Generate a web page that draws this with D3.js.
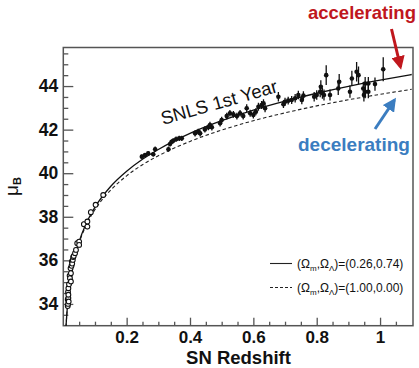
<!DOCTYPE html>
<html><head><meta charset="utf-8">
<script src="https://cdn.jsdelivr.net/npm/d3@7"></script>
<style>
body{margin:0;background:#fff}
text{font-family:"Liberation Sans",Arial,Helvetica,sans-serif}
</style>
</head><body>
<svg id="c" width="419" height="368"></svg>
<script>
// ---- data ----
const lowZ   = [0.014,0.014,0.015,0.015,0.016,0.016,0.016,0.017,0.018,0.020,0.021,0.023,0.024,0.024,0.026,0.027,0.028,0.030,0.031,0.033,0.037,0.040,0.044,0.050,0.050,0.065,0.076,0.076,0.087,0.102,0.126];
const lowMu  = [33.90,34.20,34.00,34.55,34.27,34.42,34.72,34.11,34.90,35.30,35.18,35.64,35.41,35.03,35.75,35.95,35.85,36.02,36.15,36.20,36.33,36.48,36.79,36.86,36.71,37.66,37.78,37.55,38.21,38.55,39.00];
const lowErr = [0.12,0.12,0.12,0.12,0.12,0.12,0.12,0.12,0.12,0.12,0.12,0.12,0.12,0.12,0.12,0.12,0.12,0.12,0.12,0.12,0.12,0.12,0.12,0.12,0.12,0.12,0.12,0.12,0.12,0.12,0.12];

const snlsZ  = [0.248,0.258,0.268,0.284,0.290,0.332,0.337,0.342,0.347,0.356,0.366,0.374,0.416,0.426,0.432,0.447,0.458,0.463,0.469,0.495,0.500,0.516,0.526,0.537,0.548,0.558,0.568,0.579,0.590,0.600,0.608,0.616,0.626,0.632,0.637,0.679,0.695,0.700,0.710,0.721,0.732,0.742,0.753,0.758,0.792,0.800,0.811,0.813,0.818,0.823,0.830,0.842,0.868,0.871,0.905,0.911,0.926,0.932,0.947,0.953,0.953,0.949,0.963,0.963,0.984,1.010];
const snlsMu = [40.76,40.83,40.91,40.87,41.10,41.10,41.34,41.44,41.49,41.56,41.60,41.60,41.83,41.90,41.83,42.01,42.11,42.21,42.11,42.29,42.44,42.62,42.75,42.70,42.62,42.75,42.62,42.98,42.75,42.67,42.82,43.05,43.13,43.21,42.98,43.51,43.17,43.28,43.33,43.36,43.44,43.59,43.36,43.56,43.51,43.59,43.74,43.97,43.67,43.59,44.50,43.59,43.89,44.20,43.74,44.35,44.66,44.50,43.89,44.12,43.74,43.59,44.12,43.74,44.09,44.77];
const snlsErr= [0.10,0.10,0.10,0.10,0.12,0.12,0.12,0.10,0.12,0.12,0.12,0.12,0.14,0.14,0.14,0.14,0.14,0.15,0.15,0.15,0.15,0.15,0.15,0.15,0.15,0.15,0.16,0.18,0.16,0.16,0.16,0.18,0.18,0.18,0.18,0.22,0.18,0.18,0.18,0.18,0.20,0.20,0.20,0.20,0.22,0.22,0.25,0.30,0.25,0.25,0.45,0.25,0.30,0.35,0.28,0.35,0.45,0.40,0.30,0.30,0.30,0.30,0.30,0.30,0.30,0.55];

// model curves (values read/estimated at these redshifts)
const curveZ = [0.0085,0.01,0.015,0.02,0.03,0.04,0.05,0.07,0.10,0.15,0.20,0.25,0.30,0.40,0.50,0.60,0.70,0.80,0.90,1.00,1.10];
const lcdmMu = [32.94,33.30,34.19,34.82,35.72,36.36,36.86,37.62,38.44,39.40,40.09,40.64,41.09,41.83,42.41,42.90,43.31,43.67,43.99,44.27,44.53];
const edsMu  = [32.93,33.28,34.17,34.79,35.68,36.31,36.80,37.54,38.33,39.23,39.88,40.39,40.80,41.46,41.98,42.41,42.77,43.09,43.37,43.62,43.85];

const xTicks = [0.2,0.4,0.6,0.8,1];
const yTicks = [34,36,38,40,42,44];
const legendLabels = [["(0.26,0.74)","solid"],["(1.00,0.00)","dashed"]];

// ---- drawing ----
const svg = d3.select("#c");
const L=63.3, R=413, T=47.5, B=325.7;
const x = d3.scaleLinear().domain([0,1.104]).range([L,R]);
const y = d3.scaleLinear().domain([33.0,45.77]).range([B,T]);
const axisCol = "#555";

svg.append("defs").append("clipPath").attr("id","clip")
  .append("rect").attr("x",L).attr("y",T).attr("width",R-L).attr("height",B-T);

// minor ticks
const yMinor = d3.range(33.5,45.8,0.5).filter(v=>!yTicks.includes(v));
const xMinor = d3.range(0.05,1.1,0.05).filter(v=>!xTicks.some(t=>Math.abs(t-v)<1e-6));
const gyMin = svg.append("g").attr("transform",`translate(${L},0)`)
  .call(d3.axisLeft(y).tickValues(yMinor).tickSize(-5).tickFormat(""));
const gxMin = svg.append("g").attr("transform",`translate(0,${B})`)
  .call(d3.axisBottom(x).tickValues(xMinor).tickSize(-4).tickFormat(""));
// major ticks
const gy = svg.append("g").attr("transform",`translate(${L},0)`)
  .call(d3.axisLeft(y).tickValues(yTicks).tickSize(-10).tickPadding(5).tickFormat(d3.format("d")));
const gx = svg.append("g").attr("transform",`translate(0,${B})`)
  .call(d3.axisBottom(x).tickValues(xTicks).tickSize(-8).tickPadding(5).tickFormat(d=>d===1?"1":d3.format(".1f")(d)));
[gyMin,gxMin,gy,gx].forEach(g=>{
  g.select(".domain").remove();
  g.selectAll("line").attr("stroke",axisCol).attr("stroke-width",1.3);
  g.selectAll("text").attr("fill","#111").attr("font-size",17.5).attr("font-weight","bold")
    .attr("font-family",'"Liberation Sans",Arial,sans-serif');
});
gx.selectAll("text").attr("font-size",17).attr("dy","0.72em");

// frame
svg.append("rect").attr("x",L).attr("y",T).attr("width",R-L).attr("height",B-T)
  .attr("fill","none").attr("stroke",axisCol).attr("stroke-width",1.5);

// curves
const line = d3.line().x(d=>x(d[0])).y(d=>y(d[1])).curve(d3.curveMonotoneX);
const cg = svg.append("g").attr("clip-path","url(#clip)");
cg.append("path").datum(curveZ.map((z,i)=>[z,edsMu[i]])).attr("d",line)
  .attr("fill","none").attr("stroke","#222").attr("stroke-width",1.1).attr("stroke-dasharray","3.5,2.5");
cg.append("path").datum(curveZ.map((z,i)=>[z,lcdmMu[i]])).attr("d",line)
  .attr("fill","none").attr("stroke","#111").attr("stroke-width",1.3);

// low-z data (open circles)
const low = lowZ.map((z,i)=>({z,mu:lowMu[i],e:lowErr[i]}));
const lg = cg.append("g");
lg.selectAll("line").data(low).join("line")
  .attr("x1",d=>x(d.z)).attr("x2",d=>x(d.z)).attr("y1",d=>y(d.mu-d.e)).attr("y2",d=>y(d.mu+d.e))
  .attr("stroke","#111").attr("stroke-width",1);
lg.selectAll("circle").data(low).join("circle")
  .attr("cx",d=>x(d.z)).attr("cy",d=>y(d.mu)).attr("r",2.4)
  .attr("fill","#fff").attr("stroke","#111").attr("stroke-width",1.1);

// SNLS data (filled)
const sn = snlsZ.map((z,i)=>({z,mu:snlsMu[i],e:snlsErr[i]}));
const sg = cg.append("g");
sg.selectAll("line").data(sn).join("line")
  .attr("x1",d=>x(d.z)).attr("x2",d=>x(d.z)).attr("y1",d=>y(d.mu-d.e)).attr("y2",d=>y(d.mu+d.e))
  .attr("stroke","#111").attr("stroke-width",1.3);
sg.selectAll("circle").data(sn).join("circle")
  .attr("cx",d=>x(d.z)).attr("cy",d=>y(d.mu)).attr("r",2.3).attr("fill","#111");

// labels
svg.append("text").attr("x",238.5).attr("y",364).attr("text-anchor","middle")
  .attr("font-size",18.5).attr("font-weight","bold").attr("fill","#111").text("SN Redshift");
const yl = svg.append("text").attr("transform","translate(18,196) rotate(-90)")
  .attr("font-size",19).attr("fill","#111");
yl.append("tspan").text("μ");
yl.append("tspan").attr("font-size",11).attr("font-weight","bold").attr("dy",3).text("B");

svg.append("text").attr("transform","translate(163,125) rotate(-16)")
  .attr("font-size",18.5).attr("fill","#111").text("SNLS 1st Year");

// legend
legendLabels.forEach(([val,style],i)=>{
  const ly = 263.5 + i*24;
  svg.append("line").attr("x1",270).attr("x2",292).attr("y1",ly).attr("y2",ly)
    .attr("stroke","#222").attr("stroke-width",1.1)
    .attr("stroke-dasharray",style==="dashed"?"3,2":null);
  const t = svg.append("text").attr("x",297).attr("y",ly+4).attr("font-size",12).attr("fill","#111");
  t.append("tspan").text("(Ω");
  t.append("tspan").attr("font-size",8).attr("dy",3).text("m");
  t.append("tspan").attr("dy",-3).text(",Ω");
  t.append("tspan").attr("font-size",8).attr("dy",3).text("Λ");
  t.append("tspan").attr("dy",-3).text(")=" + val);
});

// annotations
const defs = svg.select("defs");
[["red","#c0171d"],["blue","#3b7dc0"]].forEach(([id,c])=>{
  defs.append("marker").attr("id","ah-"+id).attr("viewBox","0 0 10 10").attr("refX",8).attr("refY",5)
    .attr("markerWidth",4.5).attr("markerHeight",4.5).attr("orient","auto")
    .append("path").attr("d","M0,0 L10,5 L0,10 z").attr("fill",c);
});
svg.append("text").attr("x",308).attr("y",19).attr("font-size",18.5).attr("font-weight","bold")
  .attr("fill","#c0171d").text("accelerating");
svg.append("line").attr("x1",391.5).attr("y1",29).attr("x2",400.5).attr("y2",67)
  .attr("stroke","#c0171d").attr("stroke-width",3).attr("marker-end","url(#ah-red)");
svg.append("text").attr("x",298).attr("y",151).attr("font-size",19).attr("font-weight","bold")
  .attr("fill","#3b7dc0").text("decelerating");
svg.append("line").attr("x1",375).attr("y1",129).attr("x2",394.5).attr("y2",100)
  .attr("stroke","#3b7dc0").attr("stroke-width",3).attr("marker-end","url(#ah-blue)");
</script>
</body></html>
